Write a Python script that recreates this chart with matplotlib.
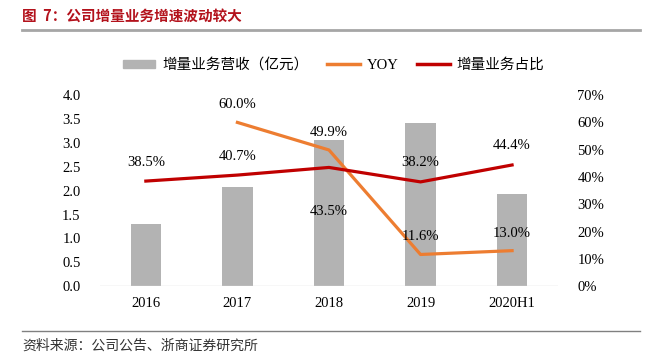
import matplotlib
matplotlib.use("Agg")
import matplotlib.pyplot as plt
from matplotlib.lines import Line2D

categories = ["2016", "2017", "2018", "2019", "2020H1"]
revenue = [1.30, 2.07, 3.06, 3.41, 1.93]
yoy = [None, 60.0, 49.9, 11.6, 13.0]
share = [38.5, 40.7, 43.5, 38.2, 44.4]
left_ticks = [0.0, 0.5, 1.0, 1.5, 2.0, 2.5, 3.0, 3.5, 4.0]
right_ticks = [0, 10, 20, 30, 40, 50, 60, 70]

serif = ["Liberation Serif", "Noto Sans CJK SC"]
cjk = ["Noto Sans CJK SC", "DejaVu Sans"]

fig = plt.figure(figsize=(6.54, 3.59), dpi=100)
ax = fig.add_axes([0.153, 0.203, 0.700, 0.532])
ax2 = ax.twinx()

x = list(range(len(categories)))
bar_c = "#b3b3b3"
orange = "#ed7d31"
red = "#c00000"

ax.bar(x, revenue, width=0.33, color=bar_c, zorder=1)
ax.set_ylim(0, 4.0)
ax.set_xlim(-0.5, len(categories) - 0.5)
ax.set_yticks(left_ticks)
ax.set_yticklabels([f"{v:.1f}" for v in left_ticks], family=serif, fontsize=10.5)
ax.set_xticks(x)
ax.set_xticklabels(categories, family=serif, fontsize=10.5)
ax.tick_params(axis="both", length=0, pad=8)
ax.tick_params(axis="y", pad=14)
for s in ax.spines.values():
    s.set_visible(False)
for s in ax2.spines.values():
    s.set_visible(False)
ax.axhline(0, color="#d9d9d9", lw=1, zorder=2)

yx = [xi for xi, v in zip(x, yoy) if v is not None]
yv = [v for v in yoy if v is not None]
ax2.plot(yx, yv, color=orange, lw=2.3, zorder=3)
ax2.plot(x, share, color=red, lw=2.3, zorder=4)
ax2.set_ylim(0, 70)
ax2.set_yticks(right_ticks)
ax2.set_yticklabels([f"{v}%" for v in right_ticks], family=serif, fontsize=10.5)
ax2.tick_params(axis="y", length=0, pad=14)

for xi, v in zip(yx, yv):
    ax2.annotate(f"{v:.1f}%", (xi, v), xytext=(0, 8), textcoords="offset points",
                 ha="center", va="bottom", family=serif, fontsize=10.5)
share_offsets = [9, 9, -27, 9, 9]
for xi, v, off in zip(x, share, share_offsets):
    ax2.annotate(f"{v:.1f}%", (xi, v), xytext=(0, off), textcoords="offset points",
                 ha="center", va="bottom" if off > 0 else "top", family=serif, fontsize=10.5)

handles = [
    plt.Rectangle((0, 0), 1, 1, color=bar_c),
    Line2D([0], [0], color=orange, lw=2.5),
    Line2D([0], [0], color=red, lw=2.5),
]
labels = ["增量业务营收（亿元）", "YOY", "增量业务占比"]
leg = fig.legend(handles, labels, loc="center", bbox_to_anchor=(0.51, 0.819), ncol=3,
                 frameon=False, prop={"family": serif, "size": 10.5},
                 handlelength=2.25, handleheight=0.45, columnspacing=1.3, handletextpad=0.45)

fig.text(0.034, 0.955, "图  7：公司增量业务增速波动较大", family=cjk, fontsize=10.5,
         fontweight="bold", color="#b3121c", va="center", ha="left")
fig.add_artist(Line2D([0.034, 0.978], [0.916, 0.916], color="#a6a6a6", lw=2))
fig.add_artist(Line2D([0.034, 0.978], [0.078, 0.078], color="#808080", lw=1))
fig.text(0.034, 0.038, "资料来源：公司公告、浙商证券研究所", family=cjk, fontsize=10,
         color="#333333", va="center", ha="left")

fig.savefig("out.png", dpi=100)
